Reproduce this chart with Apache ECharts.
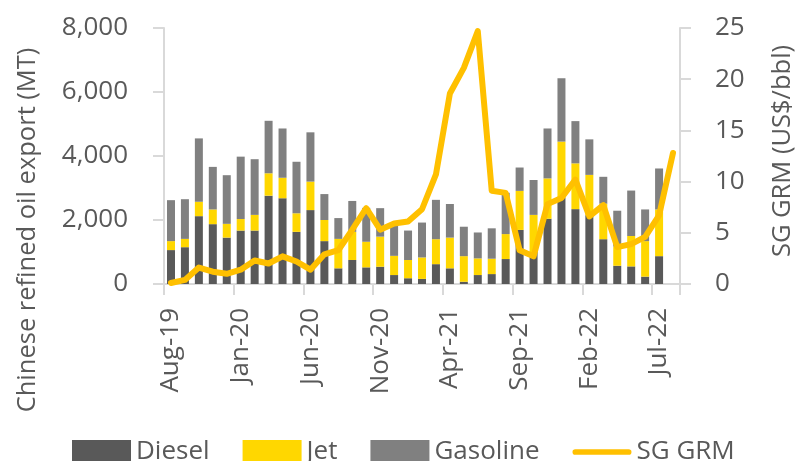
<!DOCTYPE html>
<html>
<head>
<meta charset="utf-8">
<script src="https://cdn.jsdelivr.net/npm/echarts@6/dist/echarts.min.js"></script>
<style>
html,body{margin:0;padding:0;background:#fff;}
#chart{width:799px;height:461px;}
</style>
</head>
<body>
<div id="chart"></div>
<script>
const categories = ['Aug-19','Sep-19','Oct-19','Nov-19','Dec-19','Jan-20','Feb-20','Mar-20','Apr-20','May-20','Jun-20','Jul-20',
  'Aug-20','Sep-20','Oct-20','Nov-20','Dec-20','Jan-21','Feb-21','Mar-21','Apr-21','May-21','Jun-21','Jul-21',
  'Aug-21','Sep-21','Oct-21','Nov-21','Dec-21','Jan-22','Feb-22','Mar-22','Apr-22','May-22','Jun-22','Jul-22','Aug-22'];
const diesel = [1060,1150,2120,1870,1450,1670,1670,2760,2680,1630,2310,1340,
  490,750,520,540,280,180,160,620,490,70,280,310,
  780,1690,1000,2040,2700,2340,2150,1400,570,550,230,870,null];
const jet = [280,260,450,460,430,360,490,700,640,580,890,660,
  920,880,800,940,600,570,670,780,960,800,520,480,
  780,1220,1160,1260,1750,1430,1260,1110,600,950,1110,1460,null];
const gasoline = [1280,1240,1980,1330,1520,1950,1740,1640,1540,1610,1540,810,
  650,965,1060,890,975,920,1090,1230,1050,920,810,950,
  1290,730,1090,1560,1980,1320,1110,840,1120,1420,990,1280,null];
const sgGrm = [0.1,0.4,1.6,1.2,1.0,1.4,2.3,2.0,2.7,2.2,1.4,2.9,
  3.3,5.3,7.4,5.3,5.9,6.1,7.3,10.7,18.6,21.1,24.7,9.1,
  8.9,3.3,2.7,7.8,8.4,10.2,6.6,7.7,3.6,3.9,4.6,6.7,12.8];
const leftTicks = [0,2000,4000,6000,8000];
const rightTicks = [0,5,10,15,20,25];

const FONT = 'Open Sans';
const TXT = '#595959';
const AX = '#d9d9d9';

const chart = echarts.init(document.getElementById('chart'), null, {renderer:'canvas'});
chart.setOption({
  animation:false,
  backgroundColor:'#ffffff',
  grid:{left:164,right:119,top:28,bottom:177,containLabel:false,outerBoundsMode:'none'},
  legend:{
    left:72, top:439, padding:0,
    itemWidth:59, itemHeight:24, itemGap:33,
    textStyle:{fontFamily:FONT,fontSize:26,color:TXT,padding:[0,0,8,0]},
    data:[{name:'Diesel',icon:'rect'},{name:'Jet',icon:'rect'},{name:'Gasoline',icon:'rect'},
          {name:'SG GRM',icon:'path://M3,0 L59,0 A3,3 0 0 1 59,6 L3,6 A3,3 0 0 1 3,0 Z'}]
  },
  graphic:[
    {type:'text',x:28,y:230,rotation:Math.PI/2,
     style:{text:'Chinese refined oil export (MT)',fontFamily:FONT,fontSize:25.5,fill:TXT,align:'center',verticalAlign:'middle'}},
    {type:'text',x:783,y:151,rotation:Math.PI/2,
     style:{text:'SG GRM (US$/bbl)',fontFamily:FONT,fontSize:25.5,fill:TXT,align:'center',verticalAlign:'middle'}}
  ],
  xAxis:{
    type:'category', data:categories, boundaryGap:true,
    axisLine:{lineStyle:{color:AX,width:2}},
    axisTick:{show:true,interval:4,length:11,lineStyle:{color:AX,width:2}},
    axisLabel:{interval:4,rotate:90,margin:24,fontFamily:FONT,fontSize:26,color:TXT}
  },
  yAxis:[
    {type:'value',min:leftTicks[0],max:leftTicks[leftTicks.length-1],interval:2000,
     axisLine:{show:true,lineStyle:{color:AX,width:2}},
     axisTick:{show:true,length:11,lineStyle:{color:AX,width:2}},
     splitLine:{show:false},
     axisLabel:{margin:36,fontFamily:FONT,fontSize:26,color:TXT,
       formatter:v=>v.toLocaleString('en-US')}},
    {type:'value',min:rightTicks[0],max:rightTicks[rightTicks.length-1],interval:5,position:'right',
     axisLine:{show:true,lineStyle:{color:AX,width:2}},
     axisTick:{show:true,length:11,lineStyle:{color:AX,width:2}},
     splitLine:{show:false},
     axisLabel:{margin:35,fontFamily:FONT,fontSize:26,color:TXT}}
  ],
  series:[
    {name:'Diesel',type:'bar',stack:'x',data:diesel,barWidth:8,itemStyle:{color:'#595959'}},
    {name:'Jet',type:'bar',stack:'x',data:jet,barWidth:8,itemStyle:{color:'#FFD700'}},
    {name:'Gasoline',type:'bar',stack:'x',data:gasoline,barWidth:8,itemStyle:{color:'#808080'}},
    {name:'SG GRM',type:'line',yAxisIndex:1,data:sgGrm,symbol:'none',z:5,
     itemStyle:{color:'#FFC000'},
     lineStyle:{color:'#FFC000',width:6,cap:'round',join:'round'}}
  ]
});
</script>
</body>
</html>
